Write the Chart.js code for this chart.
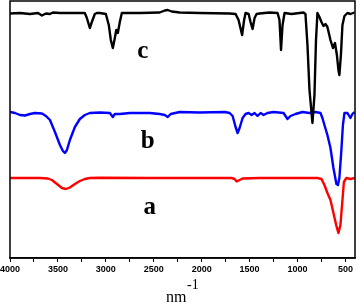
<!DOCTYPE html>
<html>
<head>
<meta charset="utf-8">
<script src="https://cdn.jsdelivr.net/npm/chart.js@4.4.1/dist/chart.umd.min.js"></script>
<style>
  html, body { margin: 0; padding: 0; background: #fff; }
  #wrap { width: 358px; height: 304px; }
</style>
</head>
<body>
<div id="wrap"><canvas id="ftir" width="358" height="304"></canvas></div>
<script>
// FTIR spectra, wavenumber (cm-1 shown as nm-1) vs offset transmittance (a.u.)

// sample c (black)
var cWave = [4000, 3896, 3792, 3708, 3667, 3625, 3583, 3552, 3479, 3219, 3198, 3167, 3146, 3115, 3094, 3063,
  3000, 2969, 2948, 2927, 2906, 2891, 2875, 2854, 2833, 2646, 2438, 2385, 2354, 2313, 2229, 2021,
  1708, 1646, 1615, 1578, 1557, 1542, 1510, 1490, 1469, 1448, 1427, 1396, 1344, 1292, 1208, 1188,
  1172, 1156, 1135, 1063, 979, 938, 917, 896, 875, 844, 823, 807, 792, 771, 750, 729, 708, 688,
  656, 630, 609, 589, 573, 563, 547, 531, 510, 479, 448, 406];
var cTrans = [244.5, 245, 244, 245, 242.5, 244.5, 244, 245.5, 245, 245, 240, 230, 236, 244, 245, 245,
  244, 233, 218, 210, 220, 228, 225, 236, 245, 245, 245.5, 247.5, 248, 246.5, 245.5, 245,
  244.5, 244, 238, 223, 238, 245, 244, 236, 229, 240, 244, 244.5, 245, 245.5, 245, 238,
  208, 233, 245, 244, 245, 245.5, 244, 213, 168, 135, 163, 218, 245, 241, 236, 232, 234, 231,
  218, 210, 215, 203, 188, 183, 203, 233, 242, 245, 244, 245.5];

// sample b (blue)
var bWave = [4000, 3948, 3896, 3844, 3792, 3740, 3667, 3625, 3583, 3531, 3479, 3448, 3427, 3406, 3375, 3323,
  3271, 3219, 3167, 3063, 2958, 2927, 2906, 2854, 2750, 2542, 2438, 2385, 2354, 2323, 2229, 2021,
  1760, 1708, 1677, 1646, 1625, 1604, 1573, 1542, 1510, 1479, 1448, 1417, 1385, 1354, 1313, 1250,
  1146, 1125, 1104, 1073, 1021, 948, 875, 813, 760, 740, 719, 688, 656, 625, 594, 578, 563, 542,
  526, 510, 479, 448, 427, 406];
var bTrans = [146, 145, 143, 142.5, 144, 145, 144.5, 142, 138, 126, 113, 107, 105, 108, 118, 131,
  139, 143, 145, 145.5, 145, 141, 144, 144, 145, 145, 144, 143, 141, 144, 146, 145.5,
  146, 145, 142, 131, 125, 130, 140, 144, 145, 143, 145, 142, 145, 143, 145, 146,
  145, 142, 139, 142, 144, 146, 145, 146, 145, 140, 133, 123, 110, 90, 74, 73, 80, 108,
  133, 145, 145, 140, 144, 146];

// sample a (red)
var aWave = [4000, 3688, 3604, 3563, 3510, 3458, 3417, 3375, 3323, 3271, 3219, 3167, 3063, 2542, 2021,
  1688, 1656, 1635, 1604, 1573, 1396, 1083, 792, 750, 719, 688, 656, 625, 594, 573, 552, 531,
  516, 490, 448, 406];
var aTrans = [80, 80, 79.5, 78, 74, 70, 69, 70.5, 74, 77, 79, 80, 80.2, 80, 80,
  80, 79, 76.5, 78, 79.5, 80, 80, 80, 79, 73, 65, 58, 45, 32, 25, 33, 58,
  76, 80, 79, 80];

var seriesNames = ['c', 'b', 'a'];
var seriesColors = ['#000000', '#0000ff', '#ff0000'];
var xTicks = [4000, 3750, 3500, 3250, 3000, 2750, 2500, 2250, 2000, 1750, 1500, 1250, 1000, 750, 500];

function toPoints(xs, ys) {
  return xs.map(function (x, i) { return { x: x, y: ys[i] }; });
}

// box around plot, series letters and the axis title
var decorPlugin = {
  id: 'decor',
  afterDatasetsDraw: function (chart, args, opts) {
    var ctx = chart.ctx;
    var area = chart.chartArea;
    var xs = chart.scales.x;
    var ys = chart.scales.y;
    ctx.save();
    ctx.strokeStyle = '#000';
    ctx.lineWidth = 1.5;
    ctx.strokeRect(area.left, area.top, area.right - area.left, area.bottom - area.top);

    ctx.fillStyle = '#000';
    ctx.textAlign = 'center';
    ctx.textBaseline = 'middle';
    ctx.font = 'bold 25px "Liberation Serif", "Times New Roman", serif';
    opts.labels.forEach(function (l) {
      ctx.fillText(l.text, xs.getPixelForValue(l.x), ys.getPixelForValue(l.y));
    });

    // axis title "nm^-1"
    ctx.textBaseline = 'alphabetic';
    ctx.textAlign = 'right';
    ctx.font = '16px "Liberation Serif", "Times New Roman", serif';
    var cx = (area.left + area.right) / 2 + 4;
    ctx.fillText('nm', cx, 301.5);
    ctx.textAlign = 'left';
    ctx.font = '14px "Liberation Serif", "Times New Roman", serif';
    ctx.fillText('-1', cx + 0.5, 289);
    ctx.restore();
  }
};

var chart = new Chart(document.getElementById('ftir'), {
  type: 'line',
  data: {
    datasets: [
      { label: seriesNames[0], data: toPoints(cWave, cTrans), borderColor: seriesColors[0] },
      { label: seriesNames[1], data: toPoints(bWave, bTrans), borderColor: seriesColors[1] },
      { label: seriesNames[2], data: toPoints(aWave, aTrans), borderColor: seriesColors[2] }
    ]
  },
  options: {
    responsive: false,
    animation: false,
    parsing: false,
    layout: { padding: { left: 10, right: 3, top: 1, bottom: 0 } },
    elements: {
      line: { borderWidth: 2.4, tension: 0, fill: false, borderJoinStyle: 'round' },
      point: { radius: 0 }
    },
    plugins: {
      legend: { display: false },
      tooltip: { enabled: false },
      decor: {
        labels: [
          { text: 'c', x: 2615, y: 206 },
          { text: 'b', x: 2563, y: 116 },
          { text: 'a', x: 2542, y: 50 }
        ]
      }
    },
    scales: {
      x: {
        type: 'linear',
        reverse: true,
        min: 400,
        max: 4000,
        afterBuildTicks: function (scale) {
          scale.ticks = xTicks.map(function (v) { return { value: v }; });
        },
        afterFit: function (scale) {
          scale.height = 46;
          scale.paddingLeft = 0;
          scale.paddingRight = 0;
        },
        border: { display: true, color: '#000', width: 1.5 },
        grid: { drawOnChartArea: false, drawTicks: true, tickLength: 4, color: '#000', lineWidth: 1 },
        ticks: {
          autoSkip: false,
          maxRotation: 0,
          padding: 2,
          color: '#000',
          font: { family: '"Liberation Sans", Arial, sans-serif', size: 9, weight: 'bold' },
          callback: function (v) { return v % 500 === 0 ? String(v) : ''; }
        }
      },
      y: {
        display: false,
        min: 0,
        max: 257
      }
    }
  },
  plugins: [decorPlugin]
});
</script>
</body>
</html>
